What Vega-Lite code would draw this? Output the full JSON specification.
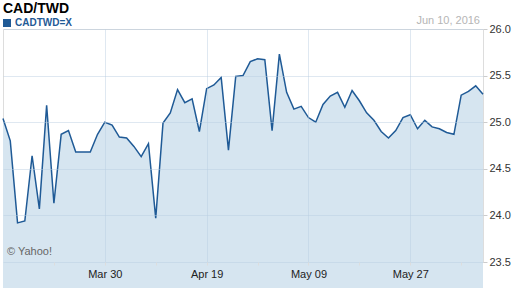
{
  "$schema": "https://vega.github.io/schema/vega-lite/v6.json",
  "autosize": "none",
  "width": 480,
  "height": 233,
  "padding": {"left": 3, "top": 29, "right": 29, "bottom": 26},
  "background": "#ffffff",
  "title": {"text": "CAD/TWD", "anchor": "start", "frame": "group", "offset": -1, "fontSize": 14, "fontWeight": "bold", "color": "#000000", "font": "Liberation Sans"},
  "config": {
    "font": "Liberation Sans",
    "view": {"stroke": "#dddddd", "strokeWidth": 1}
  },
  "data": {"values": [
    {"date": "2016-03-10", "rate": 25.04},
    {"date": "2016-03-11", "rate": 24.80},
    {"date": "2016-03-14", "rate": 23.92},
    {"date": "2016-03-15", "rate": 23.94},
    {"date": "2016-03-16", "rate": 24.64},
    {"date": "2016-03-17", "rate": 24.07},
    {"date": "2016-03-18", "rate": 25.18},
    {"date": "2016-03-21", "rate": 24.13},
    {"date": "2016-03-22", "rate": 24.87},
    {"date": "2016-03-23", "rate": 24.91},
    {"date": "2016-03-24", "rate": 24.68},
    {"date": "2016-03-25", "rate": 24.68},
    {"date": "2016-03-28", "rate": 24.68},
    {"date": "2016-03-29", "rate": 24.87},
    {"date": "2016-03-30", "rate": 25.00},
    {"date": "2016-03-31", "rate": 24.97},
    {"date": "2016-04-01", "rate": 24.84},
    {"date": "2016-04-04", "rate": 24.83},
    {"date": "2016-04-05", "rate": 24.74},
    {"date": "2016-04-06", "rate": 24.63},
    {"date": "2016-04-07", "rate": 24.77},
    {"date": "2016-04-08", "rate": 23.97},
    {"date": "2016-04-11", "rate": 24.99},
    {"date": "2016-04-12", "rate": 25.10},
    {"date": "2016-04-13", "rate": 25.35},
    {"date": "2016-04-14", "rate": 25.21},
    {"date": "2016-04-15", "rate": 25.25},
    {"date": "2016-04-18", "rate": 24.90},
    {"date": "2016-04-19", "rate": 25.36},
    {"date": "2016-04-20", "rate": 25.40},
    {"date": "2016-04-21", "rate": 25.48},
    {"date": "2016-04-22", "rate": 24.70},
    {"date": "2016-04-25", "rate": 25.49},
    {"date": "2016-04-26", "rate": 25.50},
    {"date": "2016-04-27", "rate": 25.65},
    {"date": "2016-04-28", "rate": 25.68},
    {"date": "2016-04-29", "rate": 25.67},
    {"date": "2016-05-02", "rate": 24.91},
    {"date": "2016-05-03", "rate": 25.73},
    {"date": "2016-05-04", "rate": 25.32},
    {"date": "2016-05-05", "rate": 25.14},
    {"date": "2016-05-06", "rate": 25.17},
    {"date": "2016-05-09", "rate": 25.05},
    {"date": "2016-05-10", "rate": 25.00},
    {"date": "2016-05-11", "rate": 25.19},
    {"date": "2016-05-12", "rate": 25.28},
    {"date": "2016-05-13", "rate": 25.32},
    {"date": "2016-05-16", "rate": 25.16},
    {"date": "2016-05-17", "rate": 25.34},
    {"date": "2016-05-18", "rate": 25.23},
    {"date": "2016-05-19", "rate": 25.10},
    {"date": "2016-05-20", "rate": 25.02},
    {"date": "2016-05-23", "rate": 24.90},
    {"date": "2016-05-24", "rate": 24.83},
    {"date": "2016-05-25", "rate": 24.91},
    {"date": "2016-05-26", "rate": 25.05},
    {"date": "2016-05-27", "rate": 25.08},
    {"date": "2016-05-30", "rate": 24.93},
    {"date": "2016-05-31", "rate": 25.02},
    {"date": "2016-06-01", "rate": 24.95},
    {"date": "2016-06-02", "rate": 24.93},
    {"date": "2016-06-03", "rate": 24.89},
    {"date": "2016-06-06", "rate": 24.87},
    {"date": "2016-06-07", "rate": 25.29},
    {"date": "2016-06-08", "rate": 25.33},
    {"date": "2016-06-09", "rate": 25.39},
    {"date": "2016-06-10", "rate": 25.30}
  ]},
  "encoding": {
    "x": {
      "field": "date", "type": "ordinal",
      "scale": {"type": "point", "padding": 0},
      "axis": {
        "title": null,
        "values": ["2016-03-21", "2016-03-30", "2016-04-08", "2016-04-19", "2016-04-28", "2016-05-09", "2016-05-18", "2016-05-27", "2016-06-07"],
        "labelExpr": "indexof(['2016-03-30','2016-04-19','2016-05-09','2016-05-27'], datum.value) >= 0 ? utcFormat(toDate(datum.value), '%b %d') : ''",
        "labelAngle": 0,
        "labelFontSize": 11,
        "labelColor": "#222222",
        "labelPadding": 3,
        "tickSize": 3,
        "tickColor": "#dddddd",
        "domain": false,
        "grid": true,
        "gridColor": "#b8cde0",
        "gridOpacity": {"condition": {"test": "indexof(['2016-03-30','2016-04-19','2016-05-09','2016-05-27'], datum.value) >= 0", "value": 0.45}, "value": 0},
        "zindex": 1
      }
    },
    "y": {
      "field": "rate", "type": "quantitative",
      "scale": {"domain": [23.5, 26], "nice": false, "zero": false},
      "axis": {
        "title": null,
        "orient": "right",
        "values": [23.5, 24, 24.5, 25, 25.5, 26],
        "format": ".1f",
        "labelFontSize": 11,
        "labelColor": "#333333",
        "labelPadding": 2,
        "tickSize": 4,
        "tickColor": "#cccccc",
        "domain": false,
        "grid": true,
        "gridColor": "#b8cde0",
        "gridOpacity": 0.45,
        "zindex": 1
      }
    }
  },
  "layer": [
    {"mark": {"type": "area", "color": "#d6e5f0", "opacity": 1}},
    {
      "mark": {"type": "line", "strokeWidth": 1.5},
      "encoding": {
        "color": {
          "datum": "CADTWD=X",
          "scale": {"range": ["#1f5a96"]},
          "legend": {
            "title": null,
            "orient": "none",
            "legendX": -1,
            "legendY": -11,
            "symbolType": "square",
            "symbolSize": 64,
            "symbolFillColor": "#1f5a96",
            "symbolStrokeWidth": 0,
            "labelFontSize": 10,
            "labelFontWeight": "bold",
            "labelColor": "#1f5a96",
            "labelOffset": 3,
            "padding": 0
          }
        }
      }
    },
    {
      "transform": [{"filter": "datum.date == '2016-06-10'"}],
      "mark": {"type": "text", "align": "right", "baseline": "alphabetic", "dx": -3, "dy": -5, "fontSize": 11, "color": "#b5b5b5"},
      "encoding": {"y": {"datum": 26}, "text": {"value": "Jun 10, 2016"}}
    },
    {
      "transform": [{"filter": "datum.date == '2016-03-10'"}],
      "mark": {"type": "text", "align": "left", "baseline": "alphabetic", "dx": 4, "dy": -7, "fontSize": 11, "color": "#666666"},
      "encoding": {"y": {"datum": 23.5}, "text": {"value": "© Yahoo!"}}
    }
  ]
}
